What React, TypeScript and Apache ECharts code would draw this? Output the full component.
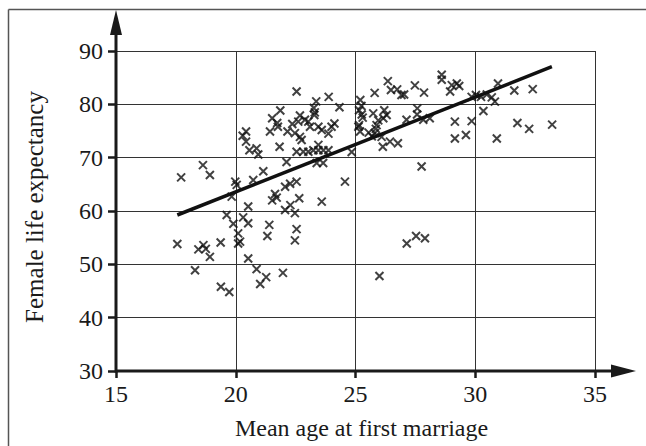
import React, { useEffect, useRef } from "react";
import * as echarts from "echarts";

// Mean age at first marriage (years) against female life expectancy (years)
const marriageAge: number[] = [
  17.56, 17.72, 18.3, 18.44, 18.65, 18.75, 18.92, 18.63, 18.92, 19.37,
  19.38, 19.73, 19.62, 19.9, 19.83, 19.98, 20.04,
  20.1, 20.18, 20.1, 20.31, 20.52, 20.52, 20.52, 20.87, 21.27, 21.02,
  20.43, 20.29, 20.43, 20.57, 20.87, 20.94, 20.73,
  21.15, 21.32, 21.4, 21.52, 21.71, 21.64, 21.97, 21.43, 21.52, 21.73,
  21.86, 21.76, 21.83, 22.12,
  22.06, 22.27, 22.54, 22.06, 22.28, 22.47, 22.65, 22.54, 22.47, 22.54,
  22.16, 22.36, 22.68, 22.61, 22.47, 22.68, 22.75, 22.54, 22.82, 22.89,
  23.03, 23.24, 23.45, 23.66, 23.87, 23.45, 23.03, 23.1, 23.45, 23.59,
  23.36, 23.26, 23.3, 23.28, 23.88, 24.33, 23.38, 23.65, 23.59, 23.87,
  24.0, 24.12, 24.56, 24.84,
  25.2, 25.25, 25.15, 25.26, 25.3, 25.12, 25.19, 25.15, 25.74, 25.8,
  25.88, 25.85, 25.81, 25.68, 25.55, 25.95, 26.0,
  26.2, 26.3, 26.16, 26.09, 26.14, 26.44, 26.77, 26.35, 26.48, 26.74,
  26.92, 27.03,
  27.48, 27.86, 27.13, 27.58, 27.57, 27.83, 28.1, 27.76, 27.14, 27.53, 27.9,
  28.6, 28.6, 29.02, 29.23, 29.33, 28.95, 29.85, 30.03, 30.24, 30.48,
  30.69, 30.82, 30.95, 31.63, 32.4, 30.34, 29.15, 29.85, 29.15, 29.61,
  30.9, 31.76, 32.25, 33.21,
];

const lifeExpectancy: number[] = [
  53.8, 66.3, 48.9, 52.8, 53.6, 52.9, 51.4, 68.6, 66.75, 54.1,
  45.8, 44.8, 59.25, 57.6, 62.7, 65.5, 64.9,
  55.8, 54.25, 53.9, 58.8, 57.7, 60.85, 51.1, 49.1, 47.6, 46.3,
  74.9, 74.1, 73.0, 71.4, 71.75, 70.6, 65.8,
  67.45, 55.3, 57.4, 62.0, 62.5, 63.2, 48.4, 74.9, 77.4, 76.5,
  78.85, 75.8, 72.05, 69.2,
  64.55, 65.1, 65.5, 60.2, 61.1, 59.6, 62.4, 56.6, 54.5, 82.4,
  74.9, 76.3, 77.9, 76.75, 74.6, 73.9, 73.3, 71.1, 71.1, 77.1,
  71.1, 71.4, 71.4, 71.4, 71.4, 72.4, 76.75, 75.8, 75.8, 75.2,
  80.55, 79.3, 78.5, 78.0, 81.4, 79.45, 69.0, 69.0, 61.75, 74.5,
  75.8, 76.4, 65.5, 71.05,
  80.8, 79.7, 78.9, 78.1, 77.5, 75.8, 74.9, 76.1, 78.3, 82.15,
  76.1, 75.4, 74.6, 74.0, 74.7, 77.0, 47.8,
  78.9, 78.0, 77.4, 73.9, 72.05, 73.0, 72.7, 84.35, 82.7, 82.8,
  81.75, 81.85,
  83.55, 82.2, 77.1, 79.25, 78.1, 77.1, 77.4, 68.35, 53.9, 55.3, 54.9,
  85.55, 84.6, 83.6, 83.9, 83.45, 82.4, 81.4, 81.75, 81.4, 81.85,
  81.3, 80.5, 83.9, 82.6, 82.85, 78.75, 76.75, 76.85, 73.6, 74.25,
  73.6, 76.5, 75.4, 76.2,
];

// Least-squares line end points
const fitX: number[] = [17.56, 33.2];
const fitY: number[] = [59.25, 87.05];

const xTicks = { min: 15, max: 35, step: 5 };
const yTicks = { min: 30, max: 90, step: 10 };

const xTitle = "Mean age at first marriage";
const yTitle = "Female life expectancy";

const FONT = "'Liberation Serif', 'Times New Roman', serif";
const INK = "#1a1a1a";

export default function App() {
  const ref = useRef<HTMLDivElement>(null);

  useEffect(() => {
    if (!ref.current) return;
    const chart = echarts.init(ref.current, undefined, { renderer: "svg" });

    const points = marriageAge.map((x, i) => [x, lifeExpectancy[i]]);
    const fit = fitX.map((x, i) => [x, fitY[i]]);

    chart.setOption({
      animation: false,
      backgroundColor: "#ffffff",
      grid: {
        left: 116,
        top: 51,
        right: 51,
        bottom: 75,
        containLabel: false,
        outerBoundsMode: "none",
      },
      xAxis: {
        type: "value",
        min: xTicks.min,
        max: xTicks.max,
        interval: xTicks.step,
        name: xTitle,
        nameLocation: "middle",
        nameGap: 45,
        nameTextStyle: { fontFamily: FONT, fontSize: 24, color: INK, padding: [0, 0, 0, 12] },
        axisLine: { show: false },
        axisTick: { show: true, inside: false, length: 7, lineStyle: { color: INK, width: 2.5 } },
        axisLabel: { fontFamily: FONT, fontSize: 24, color: INK, margin: 11 },
        splitLine: { show: true, lineStyle: { color: "#333", width: 1 } },
      },
      yAxis: {
        type: "value",
        min: yTicks.min,
        max: yTicks.max,
        interval: yTicks.step,
        name: yTitle,
        nameLocation: "middle",
        nameRotate: 90,
        nameGap: 69,
        nameTextStyle: { fontFamily: FONT, fontSize: 25, color: INK, padding: [0, 0, 0, 8] },
        axisLine: { show: false },
        axisTick: { show: true, inside: false, length: 8, lineStyle: { color: INK, width: 2.5 } },
        axisLabel: { fontFamily: FONT, fontSize: 24, color: INK, margin: 13 },
        splitLine: { show: true, lineStyle: { color: "#333", width: 1 } },
      },
      series: [
        {
          type: "scatter",
          data: points,
          symbol: "path://M0,0L10,10M10,0L0,10",
          symbolSize: 8,
          itemStyle: { color: "none", borderColor: "#111", borderWidth: 2 },
          z: 3,
        },
        {
          type: "line",
          data: fit,
          showSymbol: false,
          symbol: "none",
          lineStyle: { color: "#111", width: 3.5 },
          z: 4,
        },
      ],
    });

    // Thick axis lines with arrow heads running past the plot box, plus the outer frame
    const o = chart.convertToPixel({ gridIndex: 0 }, [xTicks.min, yTicks.min]) as number[];
    const e = chart.convertToPixel({ gridIndex: 0 }, [xTicks.max, yTicks.max]) as number[];
    const ext = 41;
    const xTip = e[0] + ext;
    const yTip = e[1] - ext;
    const axisStyle = { stroke: INK, lineWidth: 3 };

    chart.setOption({
      graphic: [
        { type: "line", shape: { x1: 8.5, y1: 9.5, x2: 646, y2: 9.5 }, style: { stroke: "#555", lineWidth: 1.5 }, z: 10 },
        { type: "line", shape: { x1: 8.5, y1: 9.5, x2: 8.5, y2: 446 }, style: { stroke: "#555", lineWidth: 1.5 }, z: 10 },
        { type: "line", shape: { x1: o[0], y1: o[1], x2: xTip - 20, y2: o[1] }, style: axisStyle, z: 10 },
        { type: "line", shape: { x1: o[0], y1: o[1] + 1.5, x2: o[0], y2: yTip + 20 }, style: axisStyle, z: 10 },
        {
          type: "polygon",
          shape: { points: [[xTip, o[1]], [xTip - 25, o[1] - 6.5], [xTip - 25, o[1] + 6.5]] },
          style: { fill: INK },
          z: 10,
        },
        {
          type: "polygon",
          shape: { points: [[o[0], yTip], [o[0] - 6, yTip + 25], [o[0] + 6, yTip + 25]] },
          style: { fill: INK },
          z: 10,
        },
      ],
    });

    return () => chart.dispose();
  }, []);

  return (
    <div
      ref={ref}
      style={{ position: "fixed", left: 0, top: 0, width: 646, height: 446, background: "#fff" }}
    />
  );
}
